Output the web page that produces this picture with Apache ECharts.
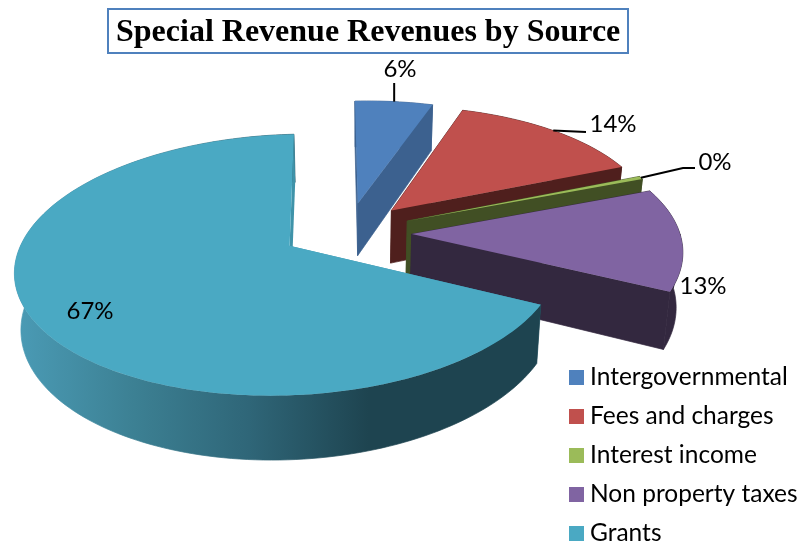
<!DOCTYPE html>
<html>
<head>
<meta charset="utf-8">
<style>html,body{margin:0;padding:0;background:#fff}#c{width:802px;height:542px}</style>
<script src="https://cdn.jsdelivr.net/npm/echarts@6/dist/echarts.min.js"></script>
</head>
<body>
<div id="c"></div>
<script>
const titleText = 'Special Revenue Revenues by Source';
const categories = ['Intergovernmental', 'Fees and charges', 'Interest income', 'Non property taxes', 'Grants'];
const shares = [5.5, 14, 0.4, 13, 67];
const topColors = ['#4f81bd', '#c0504d', '#9bbb59', '#8064a2', '#4aa9c3'];
const wallColors = ['#3c618f', '#4f1f1d', '#414f24', '#33283f', '#3f93a9'];

// percent labels: screen position of the text and leader bend points
const labelPlaces = [
  {x: 400, y: 69, leader: [[null, 83]]},
  {x: 613, y: 124, leader: [[586, 132]]},
  {x: 715, y: 162, leader: [[683, 168], [695, 168]]},
  {x: 703, y: 286, leader: null},
  {x: 90, y: 311, leader: null}
];

// small per-slice corrections for the picture's off-axis perspective
const radiusScale = [1, 1, 1, 1, 0.985];
const nudgeX = [0, 0, 0, 0, -3];
const nudgeY = [0, 0, 0, 1, -3];

const total = shares.reduce((a, b) => a + b, 0);
const view = {cx: 348, cy: 232, A: 268, B: 125, k: 0.145, q: 0.02, h: 54, explode: 0.238, start: -3, shear: 10};
const rad = d => d * Math.PI / 180;

function project(u, v, z) {
  const w = 1 + view.k * v;
  return [
    view.cx + view.A * (1 - view.q * z) * u / w + view.shear * v,
    view.cy - view.B * v / w + view.h * z / w
  ];
}

function sliceAngles(i) {
  let before = 0;
  for (let j = 0; j < i; j++) before += shares[j];
  return [view.start + before / total * 360, view.start + (before + shares[i]) / total * 360];
}

function makeRender(i) {
  return function (params, api) {
    const value = api.value(0);
    const ang = sliceAngles(i);
    const a0 = ang[0], a1 = a0 + value / total * 360, mid = (a0 + a1) / 2;
    const ou = Math.sin(rad(mid)) * view.explode, ov = Math.cos(rad(mid)) * view.explode;
    const r = radiusScale[i], dx = nudgeX[i], dy = nudgeY[i];
    const shift = p => [p[0] + dx, p[1] + dy];
    const rim = (a, z) => shift(project(ou + r * Math.sin(rad(a)), ov + r * Math.cos(rad(a)), z));
    const apex = z => shift(project(ou, ov, z));
    const arcPts = (from, to, z) => {
      const n = Math.max(2, Math.ceil((to - from) / 1.5));
      const pts = [];
      for (let s = 0; s <= n; s++) pts.push(rim(from + (to - from) * s / n, z));
      return pts;
    };
    const wallFill = i === 4 ? {
      type: 'linear', x: 20, y: 0, x2: 540, y2: 0, global: true,
      colorStops: [
        {offset: 0, color: '#4a9ab4'},
        {offset: 0.22, color: '#3c8093'},
        {offset: 0.44, color: '#2f6678'},
        {offset: 0.67, color: '#1e4450'},
        {offset: 1, color: '#1e4450'}
      ]
    } : wallColors[i];
    const poly = (points, fill, edge) => ({
      type: 'polygon', shape: {points}, silent: true,
      style: {fill, stroke: edge ? fill : null, lineWidth: edge ? 0.7 : 0}
    });
    const band = (from, to) => {
      const topPts = arcPts(from, to, 0), botPts = arcPts(from, to, 1).reverse();
      return poly(topPts.concat(botPts), wallFill, true);
    };
    const children = [];
    const frontFrom = Math.max(a0, 90), frontTo = Math.min(a1, 270);
    // walls facing away first
    if (a0 < 90) children.push(band(a0, Math.min(a1, 90)));
    if (a1 > 270) children.push(band(Math.max(a0, 270), a1));
    // the two cut faces
    children.push(poly([apex(0), rim(a0, 0), rim(a0, 1), apex(1)], wallColors[i], i !== 4));
    children.push(poly([apex(0), rim(a1, 0), rim(a1, 1), apex(1)], wallColors[i], i !== 4));
    // walls facing the viewer
    if (frontTo > frontFrom) children.push(band(frontFrom, frontTo));
    // top face
    children.push(poly([apex(0)].concat(arcPts(a0, a1, 0)), topColors[i], false));

    // percent label with optional leader line
    const place = labelPlaces[i];
    if (place.leader) {
      const s = rim(mid, 0);
      children.push({
        type: 'polyline', silent: true,
        shape: {points: [s].concat(place.leader.map(p => [p[0] === null ? s[0] : p[0], p[1]]))},
        style: {stroke: '#000', lineWidth: 2, fill: null}
      });
    }
    children.push({
      type: 'text', x: place.x, y: place.y, silent: true,
      style: {
        text: Math.round(value / total * 100) + '%',
        fill: '#000', font: '24px Lato',
        align: 'center', verticalAlign: 'middle'
      }
    });
    return {type: 'group', children};
  };
}

const chart = echarts.init(document.getElementById('c'), null, {renderer: 'canvas'});
chart.setOption({
  animation: false,
  backgroundColor: '#fff',
  title: {
    text: titleText,
    left: 108, top: 9,
    padding: [8, 8, 4, 8],
    borderColor: '#4f81bd', borderWidth: 2,
    backgroundColor: '#fff',
    textStyle: {fontFamily: 'Liberation Serif', fontWeight: 'bold', fontSize: 32, color: '#000'}
  },
  legend: {
    data: categories,
    orient: 'vertical',
    left: 569, top: 365, height: 250,
    padding: 0,
    icon: 'rect',
    itemWidth: 15, itemHeight: 15, itemGap: 14,
    selectedMode: false,
    textStyle: {fontFamily: 'Lato', fontSize: 24.5, color: '#000', padding: [0, 0, 0, 1]}
  },
  series: categories.map((name, i) => ({
    type: 'custom',
    name,
    coordinateSystem: 'none',
    itemStyle: {color: topColors[i]},
    data: [[shares[i]]],
    renderItem: makeRender(i),
    silent: true
  }))
});
</script>
</body>
</html>
